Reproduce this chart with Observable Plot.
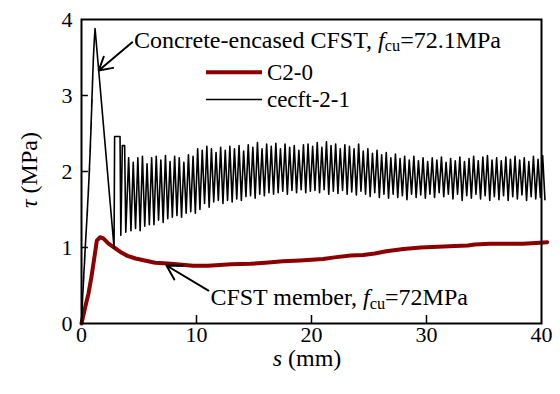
<!DOCTYPE html>
<html><head><meta charset="utf-8">
<script src="https://cdn.jsdelivr.net/npm/d3@7"></script>
<script src="https://cdn.jsdelivr.net/npm/@observablehq/plot@0.6"></script>
<style>html,body{margin:0;padding:0;background:#fff;} svg{display:block} svg text{font-family:"Liberation Serif","Times New Roman",serif !important; font-variant: normal !important;}</style>
</head><body><div id="chart"></div>
<script>
// ---- data (s in mm, tau in MPa) ----
const xTicks = [0, 10, 20, 30, 40];
const yTicks = [0, 1, 2, 3, 4];
const xInnerTicks = [10, 20, 30];
const yInnerTicks = [1, 2, 3];

const seriesNames = ["C2-0", "cecft-2-1"];
const seriesColors = ["#8b0000", "#000000"];

// C2-0 (CFST member)
const c20S   = [0, 0.3, 0.6, 0.85, 1.04, 1.2, 1.33, 1.62, 1.9, 2.35, 2.93, 3.5, 4.0, 4.7, 5.5, 6.4, 7.5, 8.5, 9.7, 11, 12, 13, 14.7, 16, 17.5, 19, 20, 21, 22, 23.4, 24.5, 25.5, 26.5, 28, 29.5, 31, 32.5, 33.6, 34.2, 35.5, 37, 38.4, 39.5, 40.5];
const c20Tau = [0, 0.2, 0.39, 0.6, 0.79, 0.95, 1.09, 1.135, 1.12, 1.05, 0.99, 0.93, 0.89, 0.855, 0.83, 0.80, 0.79, 0.775, 0.76, 0.76, 0.77, 0.78, 0.785, 0.80, 0.82, 0.83, 0.84, 0.85, 0.87, 0.895, 0.90, 0.92, 0.95, 0.98, 1.0, 1.01, 1.02, 1.026, 1.04, 1.05, 1.05, 1.05, 1.06, 1.07];

// cecft-2-1 : loading branch up to the peak and the drop after it
const riseS   = [0, 0.1, 0.07, 0.2, 0.16, 0.3, 0.26, 0.42, 0.38, 0.52, 0.48, 0.62, 0.58, 0.7, 0.66, 0.78, 0.74, 0.85, 0.81, 0.92, 0.88, 0.98, 0.95, 1.05, 1.02, 1.12, 1.18, 2.83, 2.88, 3.35, 3.42, 3.55, 3.75, 3.85];
const riseTau = [0, 0.35, 0.28, 0.62, 0.55, 0.9, 0.82, 1.25, 1.15, 1.5, 1.42, 1.8, 1.7, 2.05, 1.95, 2.35, 2.25, 2.65, 2.55, 2.95, 2.85, 3.25, 3.15, 3.55, 3.45, 3.75, 3.88, 1.0, 2.46, 2.46, 1.16, 2.34, 2.34, 1.2];
// cecft-2-1 : cyclic teeth (peak then valley)
const peakS = [4.1, 4.5, 4.9, 5.3, 5.7, 6.1, 6.5, 6.9, 7.3, 7.7, 8.1, 8.5, 8.9, 9.3, 9.7, 10.1, 10.5, 10.9, 11.3, 11.7, 12.1, 12.5, 12.9, 13.3, 13.7, 14.1, 14.5, 14.9, 15.3, 15.7, 16.1, 16.5, 16.9, 17.3, 17.7, 18.1, 18.5, 18.9, 19.3, 19.7, 20.1, 20.5, 20.9, 21.3, 21.7, 22.1, 22.5, 22.9, 23.3, 23.7, 24.1, 24.5, 24.9, 25.3, 25.7, 26.1, 26.5, 26.9, 27.3, 27.7, 28.1, 28.5, 28.9, 29.3, 29.7, 30.1, 30.5, 30.9, 31.3, 31.7, 32.1, 32.5, 32.9, 33.3, 33.7, 34.1, 34.5, 34.9, 35.3, 35.7, 36.1, 36.5, 36.9, 37.3, 37.7, 38.1, 38.5, 38.9, 39.3, 39.7, 40.1];
const peakTau = [2.18, 2.12, 2.18, 2.20, 2.10, 2.18, 2.20, 2.15, 2.21, 2.13, 2.20, 2.18, 2.12, 2.22, 2.20, 2.30, 2.28, 2.33, 2.30, 2.25, 2.32, 2.28, 2.33, 2.30, 2.34, 2.27, 2.35, 2.32, 2.38, 2.30, 2.36, 2.33, 2.37, 2.30, 2.36, 2.32, 2.34, 2.28, 2.35, 2.36, 2.33, 2.38, 2.32, 2.39, 2.34, 2.36, 2.30, 2.35, 2.33, 2.30, 2.36, 2.27, 2.30, 2.24, 2.28, 2.22, 2.25, 2.18, 2.23, 2.17, 2.20, 2.15, 2.20, 2.14, 2.18, 2.13, 2.18, 2.15, 2.19, 2.12, 2.17, 2.14, 2.19, 2.13, 2.17, 2.20, 2.14, 2.19, 2.21, 2.15, 2.18, 2.14, 2.19, 2.16, 2.20, 2.15, 2.18, 2.13, 2.20, 2.16, 2.21];
const valleyS = [4.3, 4.7, 5.1, 5.5, 5.9, 6.3, 6.7, 7.1, 7.5, 7.9, 8.3, 8.7, 9.1, 9.5, 9.9, 10.3, 10.7, 11.1, 11.5, 11.9, 12.3, 12.7, 13.1, 13.5, 13.9, 14.3, 14.7, 15.1, 15.5, 15.9, 16.3, 16.7, 17.1, 17.5, 17.9, 18.3, 18.7, 19.1, 19.5, 19.9, 20.3, 20.7, 21.1, 21.5, 21.9, 22.3, 22.7, 23.1, 23.5, 23.9, 24.3, 24.7, 25.1, 25.5, 25.9, 26.3, 26.7, 27.1, 27.5, 27.9, 28.3, 28.7, 29.1, 29.5, 29.9, 30.3, 30.7, 31.1, 31.5, 31.9, 32.3, 32.7, 33.1, 33.5, 33.9, 34.3, 34.7, 35.1, 35.5, 35.9, 36.3, 36.7, 37.1, 37.5, 37.9, 38.3, 38.7, 39.1, 39.5, 39.9, 40.3];
const valleyTau = [1.22, 1.25, 1.22, 1.28, 1.30, 1.30, 1.36, 1.33, 1.38, 1.40, 1.42, 1.40, 1.45, 1.47, 1.45, 1.50, 1.58, 1.53, 1.60, 1.62, 1.58, 1.62, 1.60, 1.64, 1.62, 1.67, 1.68, 1.65, 1.70, 1.68, 1.72, 1.70, 1.72, 1.74, 1.70, 1.75, 1.72, 1.76, 1.72, 1.74, 1.75, 1.72, 1.76, 1.70, 1.74, 1.71, 1.75, 1.70, 1.73, 1.69, 1.74, 1.70, 1.67, 1.72, 1.66, 1.70, 1.65, 1.70, 1.66, 1.68, 1.63, 1.70, 1.66, 1.69, 1.65, 1.70, 1.66, 1.72, 1.67, 1.70, 1.64, 1.70, 1.62, 1.68, 1.65, 1.70, 1.64, 1.68, 1.62, 1.67, 1.63, 1.68, 1.62, 1.67, 1.64, 1.69, 1.62, 1.67, 1.64, 1.66, 1.63];

// annotations (data coordinates)
const annText1 = ["Concrete-encased CFST, ", "f", "cu", "=72.1MPa"];
const annText2 = ["CFST member, ", "f", "cu", "=72MPa"];
const arrowFrom = [[4.41, 3.70], [11.04, 0.434]];
const arrowTo   = [[1.50, 3.33], [7.39, 0.763]];

// ---- build tables ----
const c20 = c20S.map((s, i) => ({s, tau: c20Tau[i]}));
const cecft = riseS.map((s, i) => ({s, tau: riseTau[i]}));
peakS.forEach((s, i) => {
  cecft.push({s, tau: peakTau[i]});
  cecft.push({s: valleyS[i], tau: valleyTau[i]});
});
const arrows = arrowFrom.map((a, i) => ({x1: a[0], y1: a[1], x2: arrowTo[i][0], y2: arrowTo[i][1]}));

const FONT = "Liberation Serif, Times New Roman, serif";

const chart = Plot.plot({
  width: 560, height: 394,
  marginLeft: 81, marginRight: 19, marginTop: 19, marginBottom: 71,
  x: {domain: [0, 40]},
  y: {domain: [0, 4]},
  style: {fontFamily: FONT, fontSize: "22px", color: "black", background: "white", overflow: "visible"},
  marks: [
    Plot.axisX(xTicks, {tickSize: 0, tickPadding: 3, label: null, fontSize: 22, fontFamily: FONT, fontVariant: "normal", tickFormat: d => String(d)}),
    Plot.axisY(yTicks, {tickSize: 0, tickPadding: 9, label: null, fontSize: 22, fontFamily: FONT, fontVariant: "normal", tickFormat: d => String(d)}),
    Plot.ruleX(xInnerTicks, {y1: 0, y2: 0.105, stroke: "black", strokeWidth: 1.5}),
    Plot.ruleY(yInnerTicks, {x1: 0, x2: 0.6, stroke: "black", strokeWidth: 1.5}),
    Plot.line(c20, {x: "s", y: "tau", stroke: seriesColors[0], strokeWidth: 4}),
    Plot.line(cecft, {x: "s", y: "tau", stroke: seriesColors[1], strokeWidth: 1.6}),
    Plot.frame({stroke: "black", strokeWidth: 2}),
    Plot.arrow(arrows, {x1: "x1", y1: "y1", x2: "x2", y2: "y2", stroke: "black", strokeWidth: 2, headLength: 12, bend: 0})
  ]
});
chart.setAttribute("font-family", FONT);
document.getElementById("chart").append(chart);

const sx = chart.scale("x"), sy = chart.scale("y");
const svg = d3.select(chart);

function addRich(x, y, parts, size, opts = {}) {
  const t = svg.append("text").attr("x", x).attr("y", y)
    .attr("font-family", FONT).attr("font-size", size).attr("fill", "black")
    .attr("text-anchor", opts.anchor || "start");
  if (opts.rotate) t.attr("transform", `rotate(-90 ${x} ${y})`);
  let shift = 0;
  parts.forEach(p => {
    const ts = t.append("tspan").text(p.t);
    if (p.i) ts.attr("font-style", "italic");
    if (p.sub) { ts.attr("font-size", size * 0.68).attr("dy", size * 0.15); shift = size * 0.15; }
    else if (shift) { ts.attr("dy", -shift); shift = 0; }
  });
  return t;
}

// annotations
addRich(sx.apply(4.6), sy.apply(3.62), [{t: annText1[0]}, {t: annText1[1], i: true}, {t: annText1[2], sub: true}, {t: annText1[3]}], 24);
addRich(sx.apply(11.25), sy.apply(0.237), [{t: annText2[0]}, {t: annText2[1], i: true}, {t: annText2[2], sub: true}, {t: annText2[3]}], 24);

// legend
const legendY = [3.30, 2.94];
const legendWidths = [4, 1.6];
seriesNames.forEach((name, i) => {
  svg.append("line")
    .attr("x1", sx.apply(10.87)).attr("x2", sx.apply(15.74))
    .attr("y1", sy.apply(legendY[i])).attr("y2", sy.apply(legendY[i]))
    .attr("stroke", seriesColors[i]).attr("stroke-width", legendWidths[i]);
  svg.append("text").attr("x", sx.apply(16.17)).attr("y", sy.apply(legendY[i]))
    .attr("dy", "0.34em").attr("text-anchor", "start")
    .attr("font-family", FONT).attr("font-size", 23).text(name);
});

// axis titles
addRich(307, 366, [{t: "s", i: true}, {t: " (mm)"}], 24, {anchor: "middle"});
addRich(37, 170, [{t: "τ", i: true}, {t: " (MPa)"}], 24, {anchor: "middle", rotate: true});

svg.selectAll("text").style("font-family", FONT);
</script>
</body></html>
